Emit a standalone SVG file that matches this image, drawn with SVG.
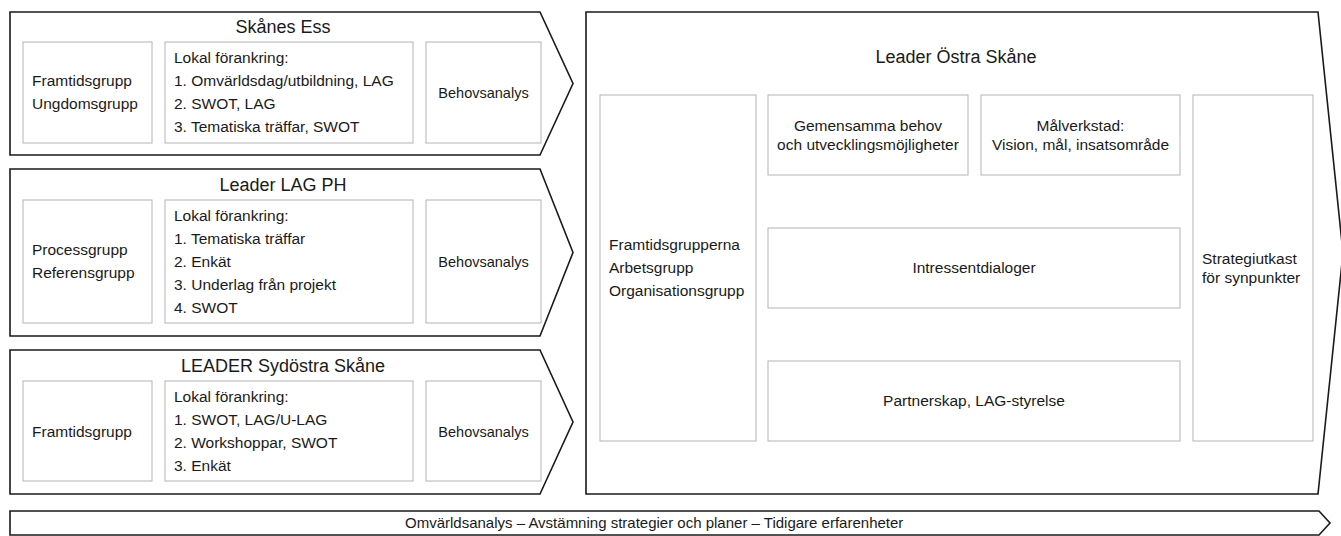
<svg xmlns="http://www.w3.org/2000/svg" width="1341" height="536" viewBox="0 0 1341 536">
<style>
.outer{fill:#fff;stroke:#1a1a1a;stroke-width:1.6}
.box{fill:#fff;stroke:#b4b4b4;stroke-width:1}
text{font-family:"Liberation Sans",Arial,sans-serif;fill:#1a1a1a;font-size:15.5px}
.title{font-size:18px;text-anchor:middle}
.c{text-anchor:middle}
.bh{font-size:14.5px;text-anchor:middle}
.bar{font-size:15px}
</style>
<rect width="1341" height="536" fill="#fff"/>
<g id="connectors"></g>

<g id="skanes-ess">
<polygon class="outer" points="10,12 540,12 573,83.5 540,155 10,155"/>
<text class="title" x="283" y="33">Skånes Ess</text>
<rect class="box" x="23" y="42" width="129" height="101"/>
<text x="32" y="86">Framtidsgrupp</text>
<text x="32" y="109">Ungdomsgrupp</text>
<rect class="box" x="165" y="42" width="248" height="101"/>
<text x="174" y="63">Lokal förankring:</text>
<text x="174" y="86">1. Omvärldsdag/utbildning, LAG</text>
<text x="174" y="109">2. SWOT, LAG</text>
<text x="174" y="132">3. Tematiska träffar, SWOT</text>
<rect class="box" x="426" y="42" width="115" height="101"/>
<text class="bh" x="483.5" y="97.5">Behovsanalys</text>
</g>

<g id="leader-lag-ph">
<polygon class="outer" points="10,169 540,169 573,252.5 540,336 10,336"/>
<text class="title" x="283" y="191">Leader LAG PH</text>
<rect class="box" x="23" y="200" width="129" height="123"/>
<text x="32" y="255">Processgrupp</text>
<text x="32" y="278">Referensgrupp</text>
<rect class="box" x="165" y="200" width="248" height="123"/>
<text x="174" y="221">Lokal förankring:</text>
<text x="174" y="244">1. Tematiska träffar</text>
<text x="174" y="267">2. Enkät</text>
<text x="174" y="290">3. Underlag från projekt</text>
<text x="174" y="313">4. SWOT</text>
<rect class="box" x="426" y="200" width="115" height="123"/>
<text class="bh" x="483.5" y="267">Behovsanalys</text>
</g>

<g id="leader-sydostra-skane">
<polygon class="outer" points="10,350 540,350 573,422 540,494 10,494"/>
<text class="title" x="283" y="372">LEADER Sydöstra Skåne</text>
<rect class="box" x="23" y="381" width="129" height="100"/>
<text x="32" y="437">Framtidsgrupp</text>
<rect class="box" x="165" y="381" width="248" height="100"/>
<text x="174" y="402">Lokal förankring:</text>
<text x="174" y="425">1. SWOT, LAG/U-LAG</text>
<text x="174" y="448">2. Workshoppar, SWOT</text>
<text x="174" y="471">3. Enkät</text>
<rect class="box" x="426" y="381" width="115" height="100"/>
<text class="bh" x="483.5" y="436.5">Behovsanalys</text>
</g>

<g id="leader-ostra-skane">
<polygon class="outer" points="586,12 1318,12 1343,253 1318,494 586,494"/>
<text class="title" x="956" y="63">Leader Östra Skåne</text>
<rect class="box" x="600" y="95" width="156" height="346"/>
<text x="609" y="250">Framtidsgrupperna</text>
<text x="609" y="273">Arbetsgrupp</text>
<text x="609" y="296">Organisationsgrupp</text>
<rect class="box" x="768" y="95" width="200" height="80"/>
<text class="c" x="868" y="131">Gemensamma behov</text>
<text class="c" x="868" y="150">och utvecklingsmöjligheter</text>
<rect class="box" x="981" y="95" width="199" height="80"/>
<text class="c" x="1080.5" y="131">Målverkstad:</text>
<text class="c" x="1080.5" y="150">Vision, mål, insatsområde</text>
<rect class="box" x="768" y="228" width="412" height="80"/>
<text class="c" x="974" y="273">Intressentdialoger</text>
<rect class="box" x="768" y="361" width="412" height="80"/>
<text class="c" x="974" y="406">Partnerskap, LAG-styrelse</text>
<rect class="box" x="1193" y="95" width="120" height="346"/>
<text x="1202" y="264">Strategiutkast</text>
<text x="1202" y="283">för synpunkter</text>
</g>

<g id="omvarldsanalys">
<polygon class="outer" points="10,511 1319,511 1330,523 1319,535 10,535"/>
<text class="bar" x="405" y="528">Omvärldsanalys – Avstämning strategier och planer – Tidigare erfarenheter</text>
</g>
</svg>
